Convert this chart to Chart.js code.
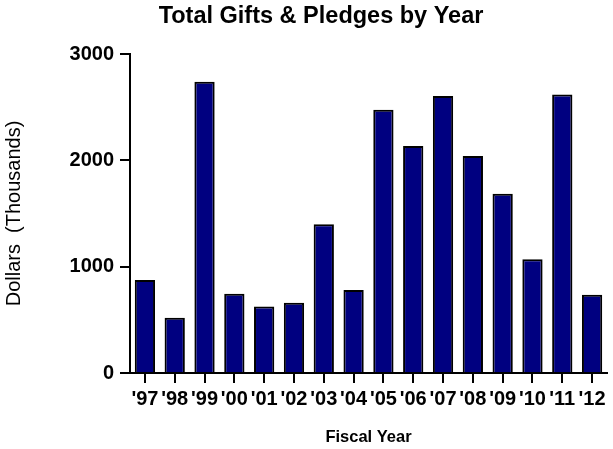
<!DOCTYPE html>
<html>
<head>
<meta charset="utf-8">
<script src="https://cdn.jsdelivr.net/npm/chart.js@4"></script>
<style>
  body { margin: 0; background: #fff; }
  canvas { display: block; }
</style>
</head>
<body>
<canvas id="myChart" width="613" height="449"></canvas>
<script>
const fiscalYears = ["'97", "'98", "'99", "'00", "'01", "'02", "'03", "'04",
                     "'05", "'06", "'07", "'08", "'09", "'10", "'11", "'12"];
const giftsThousands = [875, 520, 2740, 745, 625, 660, 1400, 780,
                        2475, 2135, 2605, 2040, 1685, 1070, 2620, 735];
const yTicks = [0, 1000, 2000, 3000];

const FONT = "'Liberation Sans', Arial, sans-serif";

const ctx = document.getElementById("myChart");

new Chart(ctx, {
  type: "bar",
  data: {
    labels: fiscalYears,
    datasets: [{
      label: "Total Gifts & Pledges",
      data: giftsThousands,
      backgroundColor: "#000080",
      borderColor: "#000",
      borderWidth: 2,
      barPercentage: 0.68,
      categoryPercentage: 1.0
    }]
  },
  options: {
    responsive: false,
    animation: false,
    devicePixelRatio: 1,
    layout: { padding: { left: 35, right: 6, top: 0, bottom: 0 } },
    plugins: {
      legend: { display: false },
      tooltip: { enabled: false },
      title: {
        display: true,
        text: "Total Gifts & Pledges by Year",
        color: "#000",
        font: { family: FONT, size: 23.5, weight: "bold" },
        padding: { top: 2, bottom: 23.8 }
      }
    },
    scales: {
      x: {
        grid: {
          offset: false,
          drawOnChartArea: false,
          drawTicks: true,
          tickLength: 10,
          color: "#000",
          lineWidth: 2
        },
        border: { color: "#000", width: 2 },
        ticks: {
          color: "#000",
          padding: 4,
          maxRotation: 0,
          autoSkip: false,
          font: { family: FONT, size: 20, weight: "bold" }
        },
        title: {
          display: true,
          text: "Fiscal Year",
          color: "#000",
          font: { family: FONT, size: 16.5, weight: "bold" },
          padding: { top: 0, bottom: 2 }
        },
        afterFit: scale => { scale.height = 76; }
      },
      y: {
        min: 0,
        max: 3000,
        afterBuildTicks: scale => { scale.ticks = yTicks.map(v => ({ value: v })); },
        grid: {
          drawOnChartArea: false,
          drawTicks: true,
          tickLength: 10,
          color: "#000",
          lineWidth: 2
        },
        border: { color: "#000", width: 2 },
        ticks: {
          color: "#000",
          padding: 6,
          font: { family: FONT, size: 20, weight: "bold" },
          callback: value => String(value)
        },
        title: {
          display: true,
          text: "Dollars  (Thousands)",
          color: "#000",
          font: { family: FONT, size: 20 },
          padding: { top: -32.5, bottom: 0 }
        },
        afterFit: scale => { scale.width = 95; }
      }
    }
  }
});
</script>
</body>
</html>
